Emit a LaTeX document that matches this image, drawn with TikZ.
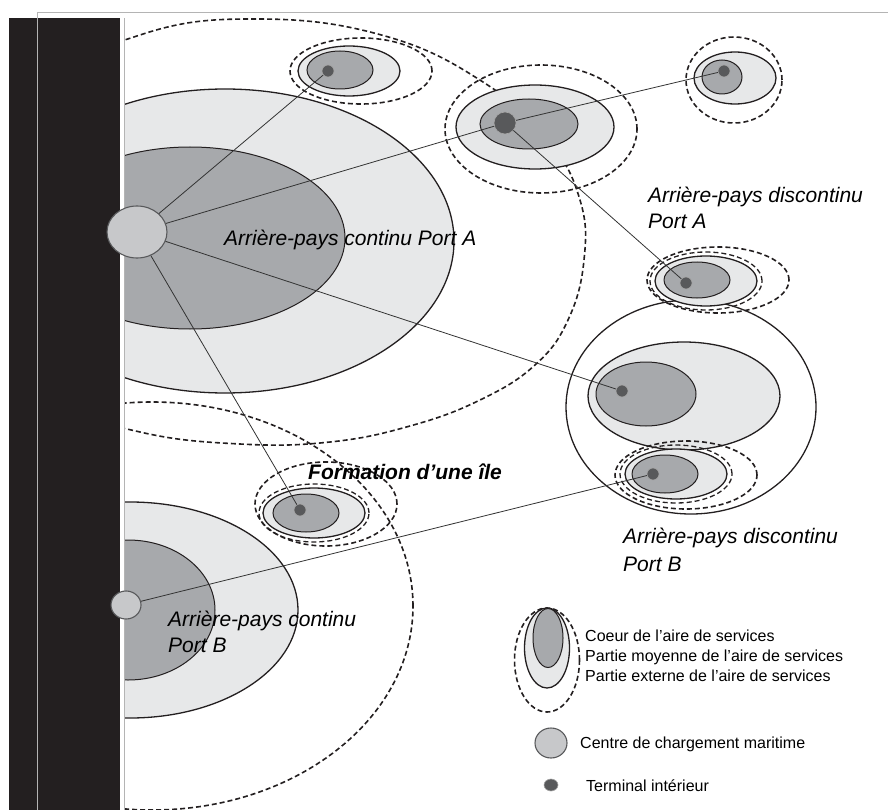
\documentclass[tikz,border=0pt]{standalone}
\usepackage{fontspec}
\setmainfont{Liberation Sans}
\usetikzlibrary{shapes.geometric,positioning}

\definecolor{barblack}{RGB}{35,31,32}
\definecolor{framegray}{RGB}{180,180,180}
\definecolor{coregray}{RGB}{167,169,172}
\definecolor{midgray}{RGB}{231,232,233}
\definecolor{portgray}{RGB}{199,200,202}
\definecolor{dotgray}{RGB}{88,89,91}
\definecolor{inkdark}{RGB}{35,31,32}

\begin{document}
\begin{tikzpicture}[
    x=1pt, y=-1pt,
    font=\fontsize{21}{26}\selectfont\itshape,
    corezone/.style={fill=coregray, draw=inkdark, line width=1pt},
    midzone/.style={fill=midgray, draw=inkdark, line width=1.3pt},
    bigzone/.style={draw=inkdark, line width=1.3pt},
    outzone/.style={draw=inkdark, line width=1.6pt, dash pattern=on 5pt off 3pt},
    ringzone/.style={outzone, line width=1.3pt},
    port/.style={ellipse, draw=dotgray, fill=portgray, line width=1.1pt, inner sep=0pt},
    terminal/.style={circle, fill=dotgray, draw=black!35, line width=0.6pt, inner sep=0pt, minimum size=#1},
    terminal/.default=12pt,
    link/.style={draw=black!80, line width=0.8pt},
    lbl/.style={anchor=base west, inner sep=0pt},
    keytext/.style={lbl, font=\fontsize{16}{20}\selectfont}
]
\useasboundingbox (0,0) rectangle (888,810);

% coast
\fill[barblack] (9,18) rectangle (120,810);

% continuous hinterlands
\begin{scope}
\clip (124,0) rectangle (888,810);
\draw[outzone] plot[smooth cycle, tension=0.7] coordinates {(-40,231) (30,95) (140,35) (260,19) (385,36) (483,82) (548,140) (580,200) (584,260) (568,320) (535,365) (480,400) (410,426) (330,442) (240,444) (140,432) (50,400) (-20,330)};
\draw[midzone] (225,241) ellipse [x radius=229pt, y radius=152pt];
\draw[corezone] (190,238) ellipse [x radius=155pt, y radius=91pt];
\draw[outzone] (152,606) ellipse [x radius=261pt, y radius=204pt];
\draw[midzone] (130,610) ellipse [x radius=168pt, y radius=108pt];
\draw[corezone] (128,610) ellipse [x radius=87pt, y radius=70pt];
\end{scope}

\draw[framegray, line width=0.8pt] (37,12) -- (888,12);
\draw[framegray, line width=0.8pt] (37,12) -- (37,810);
\draw[framegray, line width=0.8pt] (124,18) -- (124,810);

% discontinuous hinterlands
\draw[outzone] (361,71) ellipse [x radius=71pt, y radius=33pt];
\draw[midzone] (349,71) ellipse [x radius=51pt, y radius=25pt];
\draw[corezone] (340,70) ellipse [x radius=33pt, y radius=19pt];

\draw[outzone] (541,129) ellipse [x radius=96pt, y radius=64pt];
\draw[midzone] (535,127) ellipse [x radius=79pt, y radius=42pt];
\draw[corezone] (529,124) ellipse [x radius=49pt, y radius=25pt];

\draw[outzone] (734,80) ellipse [x radius=48pt, y radius=43pt];
\draw[midzone] (735,78) ellipse [x radius=41pt, y radius=26pt];
\draw[corezone] (722,77) ellipse [x radius=20pt, y radius=17pt];

\draw[bigzone] (691,407) ellipse [x radius=125pt, y radius=107pt];
\draw[midzone] (684,396) ellipse [x radius=96pt, y radius=54pt];
\draw[corezone] (646,394) ellipse [x radius=50pt, y radius=32pt];

\draw[outzone] (718,280) ellipse [x radius=71pt, y radius=33pt];
\draw[ringzone] (706,281) ellipse [x radius=56pt, y radius=29pt];
\draw[midzone] (706,281) ellipse [x radius=51pt, y radius=25pt];
\draw[corezone] (697,280) ellipse [x radius=33pt, y radius=18pt];

\draw[outzone] (686,475) ellipse [x radius=71pt, y radius=34pt];
\draw[ringzone] (676,474) ellipse [x radius=56pt, y radius=29pt];
\draw[midzone] (676,474) ellipse [x radius=51pt, y radius=25pt];
\draw[corezone] (665,474) ellipse [x radius=33pt, y radius=19pt];

\draw[outzone] (326,504) ellipse [x radius=71pt, y radius=42pt];
\draw[ringzone] (314,513) ellipse [x radius=55pt, y radius=29pt];
\draw[midzone] (314,513) ellipse [x radius=51pt, y radius=25pt];
\draw[corezone] (306,513) ellipse [x radius=33pt, y radius=19pt];

% ports and terminals
\node[port, minimum width=60pt, minimum height=52pt] (port_a) at (137,232) {};
\node[port, minimum width=30pt, minimum height=28pt] (port_b) at (126,605) {};

\node[terminal] (term_tl) at (328,71) {};
\node[terminal=22pt] (term_hub) at (505,123) {};
\node[terminal] (term_tr) at (724,71) {};
\node[terminal] (term_al) at (686,283) {};
\node[terminal] (term_bc) at (622,391) {};
\node[terminal] (term_bl) at (653,474) {};
\node[terminal] (term_isle) at (300,510) {};

\draw[link] (port_a) -- (term_tl);
\draw[link] (port_a) -- (term_hub);
\draw[link] (term_hub) -- (term_tr);
\draw[link] (term_hub) -- (term_al);
\draw[link] (port_a) -- (term_bc);
\draw[link] (port_a) -- (term_isle);
\draw[link] (port_b) -- (term_bl);

% labels
\node[lbl] (lbl_cont_a) at (224,246) {Arrière-pays continu Port A};
\node[lbl] (lbl_disc_a1) at (648,203) {Arrière-pays discontinu};
\node[lbl] (lbl_disc_a2) at (648,229) {Port A};
\node[lbl] (lbl_disc_b1) at (623,543) {Arrière-pays discontinu};
\node[lbl] (lbl_disc_b2) at (623,571) {Port B};
\node[lbl] (lbl_cont_b1) at (168,626) {Arrière-pays continu};
\node[lbl] (lbl_cont_b2) at (168,652) {Port B};
\node[lbl, font=\fontsize{21}{26}\selectfont\bfseries\itshape] (lbl_isle) at (308,479) {Formation d’une île};

% legend
\draw[outzone] (547,660) ellipse [x radius=32.5pt, y radius=52pt];
\draw[midzone] (547,648) ellipse [x radius=22.5pt, y radius=40pt];
\draw[corezone] (548,638) ellipse [x radius=15pt, y radius=29.5pt];
\node[port, minimum width=32pt, minimum height=30pt] (key_port) at (551,743) {};
\node[terminal, ellipse, minimum width=14pt, minimum height=12pt] (key_term) at (551,785) {};

\node[keytext] (key_core) at (585,641) {Coeur de l’aire de services};
\node[keytext] (key_mid) at (585,661) {Partie moyenne de l’aire de services};
\node[keytext] (key_out) at (585,681) {Partie externe de l’aire de services};
\node[keytext] (key_port_txt) at (580,748) {Centre de chargement maritime};
\node[keytext] (key_term_txt) at (586,791) {Terminal intérieur};

\end{tikzpicture}
\end{document}
